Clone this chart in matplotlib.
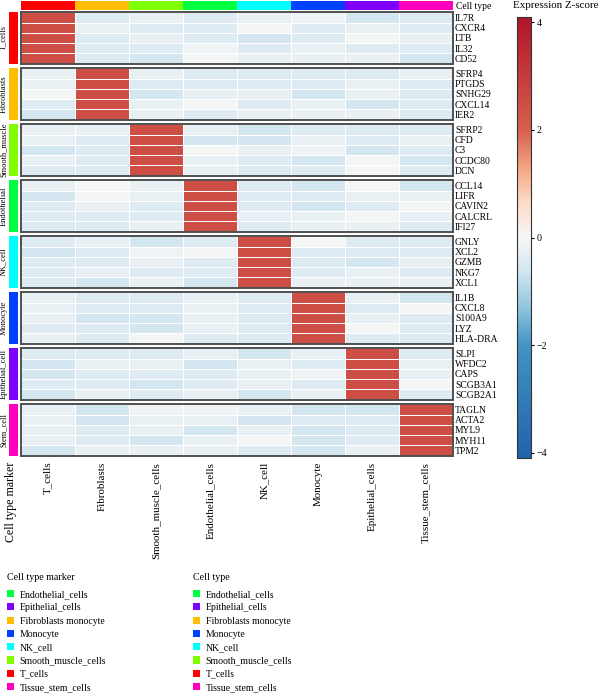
import numpy as np
import matplotlib
matplotlib.use("Agg")
import matplotlib.pyplot as plt
from matplotlib.colors import LinearSegmentedColormap, ListedColormap, Normalize
from matplotlib.patches import Patch
import matplotlib.cm as cm

plt.rcParams['font.family'] = ['Liberation Serif', 'DejaVu Serif']

# ---------------- data ----------------
cell_types = ["T_cells", "Fibroblasts", "Smooth_muscle_cells", "Endothelial_cells",
              "NK_cell", "Monocyte", "Epithelial_cells", "Tissue_stem_cells"]
block_labels = ["T_cells", "Fibroblasts", "Smooth_muscle", "Endothelial",
                "NK_cell", "Monocyte", "Epithelial_cell", "Stem_cell"]
type_colors = ["#FF0000", "#FFBF00", "#80FF00", "#00FF40",
               "#00FFFF", "#0040FF", "#8000FF", "#FF00BF"]

genes_tcells = ["IL7R", "CXCR4", "LTB", "IL32", "CD52"]
genes_fibro = ["SFRP4", "PTGDS", "SNHG29", "CXCL14", "IER2"]
genes_smooth = ["SFRP2", "CFD", "C3", "CCDC80", "DCN"]
genes_endo = ["CCL14", "LIFR", "CAVIN2", "CALCRL", "IFI27"]
genes_nk = ["GNLY", "XCL2", "GZMB", "NKG7", "XCL1"]
genes_mono = ["IL1B", "CXCL8", "S100A9", "LYZ", "HLA-DRA"]
genes_epi = ["SLPI", "WFDC2", "CAPS", "SCGB3A1", "SCGB2A1"]
genes_stem = ["TAGLN", "ACTA2", "MYL9", "MYH11", "TPM2"]

z_tcells = [[2.47, -0.42, -0.25, -0.42, -0.25, -0.15, -0.60, -0.42],
            [2.47, -0.25, -0.42, -0.42, -0.05, -0.42, -0.25, -0.42],
            [2.47, -0.42, -0.25, -0.42, -0.60, -0.42, -0.05, -0.25],
            [2.47, -0.42, -0.42, -0.15, -0.42, -0.25, -0.42, -0.42],
            [2.47, -0.42, -0.60, -0.05, -0.25, -0.25, -0.25, -0.60]]
z_fibro = [[-0.25, 2.47, -0.25, -0.42, -0.42, -0.42, -0.42, -0.25],
           [-0.25, 2.47, -0.42, -0.42, -0.42, -0.42, -0.25, -0.42],
           [-0.05, 2.47, -0.60, -0.25, -0.25, -0.60, -0.25, -0.42],
           [-0.42, 2.47, -0.25, -0.05, -0.42, -0.25, -0.60, -0.42],
           [-0.60, 2.47, -0.25, -0.42, -0.25, -0.25, -0.25, -0.42]]
z_smooth = [[-0.25, -0.25, 2.47, -0.25, -0.60, -0.42, -0.42, -0.42],
            [-0.25, -0.42, 2.47, -0.60, -0.60, -0.25, -0.42, -0.25],
            [-0.60, -0.42, 2.47, -0.05, -0.25, -0.15, -0.60, -0.42],
            [-0.25, -0.42, 2.47, -0.25, -0.42, -0.60, -0.05, -0.60],
            [-0.42, -0.42, 2.47, -0.25, -0.42, -0.42, -0.05, -0.42]]
z_endo = [[-0.25, -0.05, -0.25, 2.47, -0.42, -0.60, -0.05, -0.60],
          [-0.60, -0.05, -0.25, 2.47, -0.42, -0.42, -0.25, -0.25],
          [-0.42, -0.25, -0.42, 2.47, -0.42, -0.60, -0.42, -0.05],
          [-0.42, -0.42, -0.42, 2.47, -0.25, -0.25, -0.05, -0.25],
          [-0.42, -0.42, -0.25, 2.47, -0.42, -0.25, -0.25, -0.42]]
z_nk = [[-0.42, -0.25, -0.60, -0.42, 2.47, -0.05, -0.42, -0.42],
        [-0.60, -0.42, -0.15, -0.05, 2.47, -0.42, -0.42, -0.42],
        [-0.42, -0.42, -0.25, -0.42, 2.47, -0.42, -0.60, -0.25],
        [-0.42, -0.25, -0.42, -0.42, 2.47, -0.42, -0.25, -0.42],
        [-0.42, -0.60, -0.25, -0.60, 2.47, -0.25, -0.25, -0.25]]
z_mono = [[-0.25, -0.42, -0.42, -0.25, -0.42, 2.47, -0.25, -0.60],
          [-0.25, -0.42, -0.42, -0.25, -0.42, 2.47, -0.42, -0.05],
          [-0.25, -0.60, -0.60, -0.25, -0.42, 2.47, -0.25, -0.42],
          [-0.42, -0.42, -0.60, -0.25, -0.42, 2.47, -0.05, -0.42],
          [-0.25, -0.42, -0.05, -0.42, -0.42, 2.47, -0.42, -0.42]]
z_epi = [[-0.42, -0.42, -0.42, -0.25, -0.60, -0.25, 2.47, -0.42],
         [-0.60, -0.25, -0.25, -0.60, -0.25, -0.42, 2.47, -0.25],
         [-0.60, -0.42, -0.42, -0.42, -0.25, -0.15, 2.47, -0.25],
         [-0.42, -0.42, -0.60, -0.42, -0.25, -0.42, 2.47, -0.05],
         [-0.60, -0.25, -0.42, -0.25, -0.60, -0.25, 2.47, -0.42]]
z_stem = [[-0.25, -0.60, -0.15, -0.15, -0.25, -0.60, -0.60, 2.47],
          [-0.25, -0.60, -0.25, -0.25, -0.60, -0.42, -0.42, 2.47],
          [-0.25, -0.42, -0.25, -0.60, -0.25, -0.60, -0.42, 2.47],
          [-0.25, -0.42, -0.60, -0.25, -0.05, -0.60, -0.42, 2.47],
          [-0.60, -0.25, -0.25, -0.25, -0.42, -0.60, -0.25, 2.47]]

blocks_genes = [genes_tcells, genes_fibro, genes_smooth, genes_endo,
                genes_nk, genes_mono, genes_epi, genes_stem]
blocks_z = [z_tcells, z_fibro, z_smooth, z_endo, z_nk, z_mono, z_epi, z_stem]

legend_labels = ["Endothelial_cells", "Epithelial_cells", "Fibroblasts monocyte",
                 "Monocyte", "NK_cell", "Smooth_muscle_cells", "T_cells",
                 "Tissue_stem_cells"]
legend_colors = ["#00FF40", "#8000FF", "#FFBF00", "#0040FF",
                 "#00FFFF", "#80FF00", "#FF0000", "#FF00BF"]

cbar_ticks = [-4, -2, 0, 2, 4]
vmin, vmax = -4.1, 4.1

# ---------------- colormap ----------------
nodes = [(-4.1, "#1F62A8"), (-4.0, "#2166AC"), (-2.0, "#4393C3"), (-1.3, "#92C5DE"),
         (-0.65, "#D1E5F0"), (0.0, "#F7F7F7"), (0.65, "#FDDBC7"), (1.3, "#F4A582"),
         (2.0, "#D6604D"), (4.0, "#B2182B"), (4.1, "#AE172A")]
cmap = LinearSegmentedColormap.from_list(
    "zs", [((v - vmin) / (vmax - vmin), c) for v, c in nodes])
norm = Normalize(vmin, vmax)

# ---------------- layout ----------------
W, H = 600, 696
fig = plt.figure(figsize=(W / 100, H / 100), dpi=100)


def ax_px(x0, y0, w, h):
    return fig.add_axes([x0 / W, 1 - (y0 + h) / H, w / W, h / H])


hm_x, hm_w = 21, 432
blk_top, blk_h, blk_pitch = 12.3, 51.3, 56.0
fs_gene = 6.9

# top annotation bar
ax_top = ax_px(hm_x, 1, hm_w, 9.3)
ax_top.pcolormesh(np.arange(len(cell_types))[None, :], cmap=ListedColormap(type_colors),
                  vmin=-0.5, vmax=len(cell_types) - 0.5)
ax_top.set_xticks([])
ax_top.yaxis.tick_right()
ax_top.set_yticks([0.5])
ax_top.set_yticklabels(["Cell type"], fontsize=fs_gene)
ax_top.tick_params(axis='y', length=0, pad=2)
for s in ax_top.spines.values():
    s.set_visible(False)

for i, (genes, z) in enumerate(zip(blocks_genes, blocks_z)):
    top = blk_top + blk_pitch * i
    ax = ax_px(hm_x, top, hm_w, blk_h)
    arr = np.array(z)
    ax.pcolormesh(arr, cmap=cmap, norm=norm, edgecolors="white", linewidth=0.7)
    ax.set_xlim(0, arr.shape[1])
    ax.set_ylim(arr.shape[0], 0)
    ax.yaxis.tick_right()
    ax.set_yticks(np.arange(len(genes)) + 0.5)
    ax.set_yticklabels(genes, fontsize=fs_gene)
    ax.tick_params(axis='y', length=0, pad=1.5)
    if i == len(blocks_genes) - 1:
        ax.set_xticks(np.arange(len(cell_types)) + 0.5)
        ax.set_xticklabels(cell_types, rotation=90, fontsize=7.9, va="top", ha="center")
        ax.tick_params(axis='x', length=0, pad=4.5)
    else:
        ax.set_xticks([])
    for s in ax.spines.values():
        s.set_color("#505050")
        s.set_linewidth(1.4)

    # left annotation bar
    axl = ax_px(9, top, 9, blk_h)
    axl.pcolormesh([[i]], cmap=ListedColormap(type_colors), vmin=-0.5,
                   vmax=len(type_colors) - 0.5)
    axl.set_xticks([])
    axl.set_yticks([])
    for s in axl.spines.values():
        s.set_visible(False)
    axl.set_ylabel(block_labels[i], fontsize=6.0, labelpad=1.2)

fig.text(11 / W, 1 - 462 / H, "Cell type marker", rotation=90, ha="center", va="top",
         fontsize=8.6)

# colorbar
cax = ax_px(517, 17, 14, 441)
cb = fig.colorbar(cm.ScalarMappable(norm=norm, cmap=cmap), cax=cax)
cb.set_ticks(cbar_ticks)
cb.set_ticklabels([str(t).replace("-", "\u2212") for t in cbar_ticks])
cax.tick_params(labelsize=7.2, length=2.5, width=0.8, pad=1.5, direction="out")
cb.outline.set_edgecolor("#333333")
cb.outline.set_linewidth(0.8)
fig.text(513 / W, 1 - 6 / H, "Expression Z-score", ha="left", va="center", fontsize=7.9)

# legends
handles = [Patch(facecolor=c, edgecolor="none") for c in legend_colors]
common = dict(frameon=False, fontsize=7.0, handlelength=0.75,
              handleheight=0.75, handletextpad=0.55, labelspacing=0.44,
              borderaxespad=0, borderpad=0, loc="upper left")
fig.text(7 / W, 1 - 578 / H, "Cell type marker", ha="left", va="center", fontsize=7.2)
fig.legend(handles, legend_labels, bbox_to_anchor=(7 / W, 1 - 590 / H), **common)
fig.text(193 / W, 1 - 578 / H, "Cell type", ha="left", va="center", fontsize=7.2)
fig.legend(handles, legend_labels, bbox_to_anchor=(193 / W, 1 - 590 / H), **common)

fig.savefig("out.png", dpi=100)
